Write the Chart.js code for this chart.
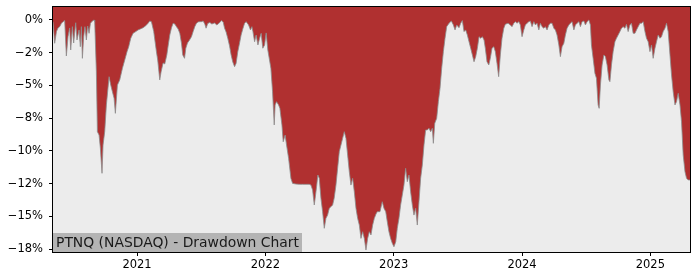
<!DOCTYPE html>
<html><head><meta charset="utf-8">
<script src="https://cdn.jsdelivr.net/npm/chart.js@4/dist/chart.umd.min.js"></script>
<style>html,body{margin:0;padding:0;background:#fff;}#wrap{position:relative;width:700px;height:280px;}</style>
</head><body><div id="wrap"><canvas id="c" width="700" height="280"></canvas></div>
<script>
const dates=[
2020.345,2020.358,2020.372,2020.384,2020.397,2020.411,2020.423,2020.436,2020.449,2020.462,
2020.475,2020.483,2020.496,2020.506,2020.522,2020.532,2020.548,2020.558,2020.566,2020.574,
2020.584,2020.594,2020.605,2020.615,2020.626,2020.637,2020.652,2020.665,2020.670,2020.683,
2020.691,2020.704,2020.714,2020.727,2020.735,2020.748,2020.761,2020.782,2020.795,2020.808,
2020.821,2020.831,2020.847,2020.865,2020.886,2020.904,2020.922,2020.935,2020.951,2020.969,
2020.990,2021.008,2021.026,2021.047,2021.068,2021.086,2021.099,2021.112,2021.130,2021.151,
2021.161,2021.177,2021.187,2021.203,2021.216,2021.232,2021.242,2021.255,2021.268,2021.281,
2021.294,2021.307,2021.320,2021.333,2021.346,2021.356,2021.370,2021.380,2021.393,2021.409,
2021.424,2021.437,2021.450,2021.463,2021.476,2021.489,2021.502,2021.515,2021.528,2021.538,
2021.551,2021.567,2021.583,2021.604,2021.622,2021.643,2021.658,2021.671,2021.682,2021.694,
2021.707,2021.721,2021.733,2021.746,2021.760,2021.772,2021.785,2021.799,2021.811,2021.824,
2021.838,2021.850,2021.869,2021.884,2021.895,2021.903,2021.916,2021.928,2021.942,2021.955,
2021.967,2021.980,2021.994,2022.006,2022.019,2022.030,2022.043,2022.056,2022.069,2022.076,
2022.087,2022.103,2022.113,2022.129,2022.139,2022.154,2022.165,2022.181,2022.199,2022.212,
2022.238,2022.264,2022.290,2022.316,2022.342,2022.355,2022.368,2022.381,2022.388,2022.399,
2022.409,2022.420,2022.433,2022.446,2022.459,2022.472,2022.485,2022.498,2022.511,2022.524,
2022.536,2022.550,2022.563,2022.576,2022.589,2022.602,2022.615,2022.628,2022.641,2022.654,
2022.667,2022.680,2022.693,2022.706,2022.719,2022.732,2022.745,2022.758,2022.771,2022.784,
2022.797,2022.810,2022.823,2022.836,2022.849,2022.862,2022.872,2022.893,2022.911,2022.924,
2022.938,2022.950,2022.963,2022.976,2022.989,2023.002,2023.016,2023.028,2023.041,2023.054,
2023.067,2023.080,2023.093,2023.106,2023.119,2023.132,2023.145,2023.158,2023.171,2023.184,
2023.197,2023.210,2023.223,2023.236,2023.249,2023.262,2023.275,2023.288,2023.301,2023.309,
2023.320,2023.335,2023.348,2023.361,2023.374,2023.387,2023.400,2023.413,2023.431,2023.449,
2023.465,2023.478,2023.491,2023.509,2023.522,2023.535,2023.548,2023.561,2023.574,2023.587,
2023.600,2023.613,2023.626,2023.639,2023.652,2023.665,2023.678,2023.691,2023.704,2023.714,
2023.727,2023.741,2023.753,2023.766,2023.780,2023.792,2023.805,2023.818,2023.831,2023.844,
2023.858,2023.870,2023.891,2023.909,2023.922,2023.936,2023.948,2023.961,2023.975,2023.987,
2024.000,2024.014,2024.026,2024.039,2024.053,2024.065,2024.078,2024.092,2024.104,2024.117,
2024.131,2024.143,2024.156,2024.170,2024.182,2024.195,2024.209,2024.221,2024.234,2024.248,
2024.260,2024.273,2024.287,2024.299,2024.312,2024.326,2024.338,2024.351,2024.365,2024.377,
2024.390,2024.404,2024.416,2024.429,2024.443,2024.455,2024.468,2024.482,2024.494,2024.507,
2024.521,2024.533,2024.541,2024.554,2024.568,2024.580,2024.593,2024.601,2024.611,2024.624,
2024.638,2024.650,2024.663,2024.677,2024.685,2024.697,2024.710,2024.724,2024.736,2024.749,
2024.763,2024.775,2024.788,2024.802,2024.814,2024.827,2024.841,2024.853,2024.866,2024.880,
2024.892,2024.905,2024.919,2024.931,2024.944,2024.958,2024.970,2024.983,2024.997,2025.009,
2025.022,2025.036,2025.048,2025.061,2025.075,2025.087,2025.100,2025.114,2025.126,2025.139,
2025.153,2025.165,2025.178,2025.192,2025.204,2025.217,2025.231,2025.243,2025.256,2025.270,
2025.282,2025.295,2025.309];
const drawdown=[
-0.13,-1.78,-0.89,-0.61,-0.51,-0.25,-0.13,-0.05,-2.75,-1.28,
-0.61,-2.29,-0.51,-1.76,-0.21,-1.53,-0.76,-2.04,-0.51,-2.93,
-1.28,-0.51,-1.53,-0.46,-1.02,-0.25,-0.08,0,-0.13,-3.95,
-8.53,-8.79,-9.78,-11.71,-9.55,-8.53,-6.49,-4.33,-4.97,-5.48,
-5.98,-7.13,-4.97,-4.58,-3.69,-3.06,-2.42,-2.04,-1.40,-1.02,
-0.89,-0.76,-0.69,-0.59,-0.44,-0.25,-0.08,-0.13,-0.89,-2.42,
-3.06,-4.58,-3.97,-3.28,-3.36,-2.67,-1.99,-1.15,-0.61,-0.25,
-0.31,-0.51,-0.69,-1.02,-1.76,-2.67,-2.93,-2.16,-1.76,-1.53,
-1.28,-0.89,-0.51,-0.25,-0.15,-0.13,-0.13,-0.08,-0.31,-0.63,
-0.27,-0.19,-0.31,-0.23,-0.38,-0.21,-0.05,-0.15,-0.63,-0.92,
-1.40,-1.99,-2.67,-3.21,-3.57,-3.31,-2.42,-1.76,-1.15,-0.69,
-0.25,-0.13,-0.38,-0.76,-0.51,-0.89,-1.66,-1.15,-1.91,-1.40,
-1.02,-2.16,-1.91,-0.99,-2.29,-2.93,-3.69,-5.48,-8.02,-6.49,
-6.24,-6.49,-6.75,-8.02,-9.30,-8.79,-9.55,-10.57,-12.09,-12.48,
-12.53,-12.55,-12.55,-12.55,-12.55,-12.61,-12.99,-14.13,-13.62,-12.73,
-11.84,-12.09,-13.62,-14.64,-15.91,-15.15,-14.90,-14.38,-14.26,-14.13,
-13.62,-12.61,-11.33,-10.06,-9.55,-9.04,-8.53,-9.04,-10.31,-11.59,
-12.61,-12.09,-13.12,-14.38,-15.15,-15.66,-16.68,-16.17,-16.68,-17.57,
-16.68,-16.17,-16.42,-15.66,-15.15,-14.82,-14.64,-14.64,-13.88,-14.38,
-14.64,-15.41,-16.17,-16.68,-17.06,-17.32,-16.94,-15.91,-15.15,-14.13,
-13.37,-12.61,-11.33,-12.35,-11.84,-13.12,-14.13,-14.90,-14.38,-15.66,
-13.88,-12.09,-11.08,-9.55,-8.40,-8.40,-8.27,-8.53,-8.27,-9.42,
-7.89,-7.51,-6.24,-5.22,-3.69,-2.42,-1.40,-0.51,-0.25,-0.08,
-0.38,-0.76,-0.38,-0.59,-0.25,-0.05,-0.89,-0.76,-1.15,-1.66,
-2.16,-2.67,-3.19,-2.80,-2.16,-1.28,-1.40,-1.28,-1.53,-2.16,
-3.19,-3.44,-2.93,-2.16,-2.04,-2.42,-3.31,-4.33,-2.67,-1.40,
-0.63,-0.33,-0.25,-0.38,-0.51,-0.25,-0.13,-0.25,-0.13,-0.38,
-1.28,-0.76,-0.38,-0.25,-0.13,-0.08,-0.51,-0.13,-0.38,-0.25,
-0.76,-0.25,-0.51,-0.63,-0.51,-0.76,-0.38,-0.25,-0.25,-0.63,
-0.76,-1.15,-1.91,-2.80,-2.04,-1.78,-1.15,-0.63,-0.38,-0.25,
-0.13,-0.76,-0.38,-0.25,-0.13,-0.51,-0.13,-0.08,-0.38,-0.13,
0,-0.38,-1.91,-2.93,-4.07,-4.45,-6.49,-6.75,-4.97,-3.44,
-2.67,-2.80,-3.44,-4.58,-4.71,-3.44,-2.42,-1.66,-1.40,-1.15,
-0.89,-0.63,-0.51,-0.63,-0.33,-0.89,-0.38,-0.25,-1.02,-1.02,
-0.76,-0.51,-0.25,-0.25,-0.13,-0.89,-1.40,-1.66,-2.42,-1.91,
-2.93,-2.16,-1.66,-1.15,-1.40,-1.28,-0.89,-0.63,-0.25,-0.89,
-2.67,-4.20,-5.48,-6.49,-6.24,-5.60,-6.49,-7.77,-10.31,-11.59,
-12.09,-12.22,-12.22];
const yearTicks=[2021,2022,2023,2024,2025];
const yTicks=[0,-2.5,-5,-7.5,-10,-12.5,-15,-17.5];
const yTickLabels=['0%','\u22122%','\u22125%','\u22128%','\u221210%','\u221212%','\u221215%','\u221218%'];
const chartTitle='PTNQ (NASDAQ) - Drawdown Chart';
const xRange=[2020.345,2025.309];
const yRange=[-17.72,0.99];

const FONT='"DejaVu Sans", sans-serif';
const points=dates.map((d,i)=>({x:d,y:drawdown[i]}));

const decor={
  id:'decor',
  beforeDatasetsDraw(chart){
    const {ctx,chartArea:a}=chart;
    ctx.save();ctx.fillStyle='#ececec';
    ctx.fillRect(a.left,a.top,a.right-a.left,a.bottom-a.top);
    ctx.restore();
  },
  afterDatasetsDraw(chart){
    const {ctx,chartArea:a}=chart;
    ctx.save();
    ctx.font='13.9px '+FONT;
    const w=ctx.measureText(chartTitle).width;
    ctx.fillStyle='#b4b4b4';
    ctx.fillRect(a.left,a.bottom-19,w+6,19);
    ctx.fillStyle='#1a1a1a';
    ctx.textBaseline='alphabetic';
    ctx.fillText(chartTitle,a.left+3,a.bottom-5);
    ctx.strokeStyle='#000';ctx.lineWidth=1;
    ctx.strokeRect(Math.round(a.left)-0.5,Math.round(a.top)-0.5,Math.round(a.right-a.left)+1,Math.round(a.bottom-a.top)+1);
    ctx.restore();
  }
};

new Chart(document.getElementById('c'),{
  type:'line',
  data:{datasets:[{
    data:points,
    fill:'end',
    backgroundColor:'#b03030',
    borderColor:'#8c8c8c',
    borderWidth:0.8,
    pointRadius:0,
    tension:0
  }]},
  options:{
    responsive:false,animation:false,devicePixelRatio:1,
    layout:{padding:{top:7,right:10,left:0,bottom:0}},
    plugins:{legend:{display:false},tooltip:{enabled:false}},
    scales:{
      x:{type:'linear',min:xRange[0],max:xRange[1],
        afterFit(s){s.height=28;s.paddingLeft=0;s.paddingRight=0;},
        afterBuildTicks(s){s.ticks=yearTicks.map(v=>({value:v}));},
        ticks:{autoSkip:false,maxRotation:0,padding:2,color:'#000',font:{family:FONT,size:11.5},callback:v=>String(v)},
        grid:{drawOnChartArea:false,drawTicks:true,tickLength:4,tickColor:'#000'},
        border:{display:true,color:'#000',width:1}
      },
      y:{min:yRange[0],max:yRange[1],
        afterFit(s){s.width=53;s.paddingTop=0;s.paddingBottom=0;},
        afterBuildTicks(s){s.ticks=yTicks.map(v=>({value:v}));},
        ticks:{autoSkip:false,padding:6,color:'#000',font:{family:FONT,size:11.5},callback:(v,i)=>yTickLabels[i]},
        grid:{drawOnChartArea:false,drawTicks:true,tickLength:4,tickColor:'#000'},
        border:{display:true,color:'#000',width:1}
      }
    }
  },
  plugins:[decor]
});
</script></body></html>
